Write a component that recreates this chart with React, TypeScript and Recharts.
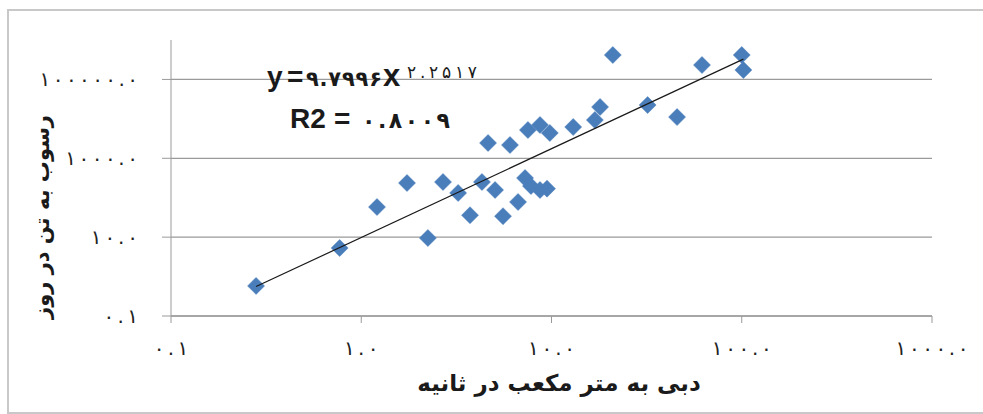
import React from "react";
import {
  ScatterChart,
  Scatter,
  XAxis,
  YAxis,
  ReferenceLine,
} from "recharts";

// دبی (m3/s) و رسوب (تن در روز) – خوانده شده از نمودار
const flowValues = [
  0.28, 0.77, 1.21, 1.74, 2.24, 2.69, 3.23, 3.73, 4.31, 4.64,
  5.05, 5.56, 6.05, 6.67, 7.26, 7.8, 8.7, 9.47, 7.52, 8.7,
  9.8, 13, 16.9, 18, 21, 32, 45.7, 61.8, 100, 102,
];
const sedimentValues = [
  0.58, 5.3, 58, 236, 9.5, 250, 132, 36, 250, 2440,
  157, 34, 2170, 78, 316, 198, 157, 170, 5210, 6980,
  4380, 6210, 9350, 20000, 416000, 22400, 11100, 232000, 416000, 173000,
];

const xTicks = [0.1, 1, 10, 100, 1000];
const xTickLabels = ["۰.۱", "۱.۰", "۱۰.۰", "۱۰۰.۰", "۱۰۰۰.۰"];
const yTicks = [0.1, 10, 1000, 100000];
const yTickLabels = ["۰.۱", "۱۰.۰", "۱۰۰۰.۰", "۱۰۰۰۰۰.۰"];

// ضرایب خط روند توانی
const trendA = 9.7996;
const trendB = 2.2517;

const points = flowValues.map((x, i) => ({ x, y: sedimentValues[i] }));
const xMin = Math.min(...flowValues);
const xMax = Math.max(...flowValues);
const trend = [xMin, xMax].map((x) => ({ x, y: trendA * Math.pow(x, trendB) }));

const persianFont = '"DejaVu Sans", sans-serif';
const latinFont = '"Liberation Sans", Arial, sans-serif';
const gray = "#9a9a9a";

const Diamond = (props: any) => {
  const { cx, cy } = props;
  const r = 8.5;
  return (
    <polygon
      points={`${cx},${cy - r} ${cx + r},${cy} ${cx},${cy + r} ${cx - r},${cy}`}
      fill="#4a7ebb"
      stroke="#4a7ebb"
      strokeWidth={0.5}
    />
  );
};

const labelFor = (labels: string[], ticks: number[], v: number) => {
  const i = ticks.findIndex((t) => Math.abs(t - v) / t < 1e-6);
  return i >= 0 ? labels[i] : "";
};

// persian digits ignore letter-spacing, so spread them with textLength
const spread = (s: string) => s.length * 12.8 - 4;

const XTick = (props: any) => {
  const { x, y, payload } = props;
  const label = labelFor(xTickLabels, xTicks, payload.value);
  return (
    <text
      x={x}
      y={y}
      dy="0.71em"
      textAnchor="middle"
      fontFamily={persianFont}
      fontSize={20}
      fill="#222"
      textLength={spread(label)}
      lengthAdjust="spacing"
    >
      {label}
    </text>
  );
};

const YTick = (props: any) => {
  const { x, y, payload } = props;
  const label = labelFor(yTickLabels, yTicks, payload.value);
  return (
    <text
      x={x}
      y={y}
      dy="0.35em"
      textAnchor="end"
      fontFamily={persianFont}
      fontSize={20}
      fill="#222"
      textLength={spread(label)}
      lengthAdjust="spacing"
    >
      {label}
    </text>
  );
};

export default function App() {
  return (
    <div
      style={{
        position: "absolute",
        left: 0,
        top: 0,
        width: 983,
        height: 414,
        background: "#fff",
        overflow: "hidden",
      }}
    >
      <div
        style={{
          position: "absolute",
          left: 7,
          top: 9,
          width: 1000,
          height: 401,
          borderTop: "2px solid #c8c8c8",
          borderLeft: "2px solid #c8c8c8",
          borderBottom: "2px solid #c8c8c8",
        }}
      />
      <div style={{ position: "absolute", left: 0, top: 0 }}>
        <ScatterChart
          width={983}
          height={414}
          margin={{ top: 40, right: 51, left: 71, bottom: 58 }}
        >
          {yTicks.map((t) => (
            <ReferenceLine key={t} y={t} stroke={gray} strokeWidth={1.3} />
          ))}
          <XAxis
            type="number"
            dataKey="x"
            scale="log"
            domain={[0.1, 1000]}
            ticks={xTicks}
            allowDataOverflow
            height={40}
            tickSize={7}
            tickMargin={18}
            stroke={gray}
            tick={<XTick />}
          />
          <YAxis
            type="number"
            dataKey="y"
            scale="log"
            domain={[0.1, 1000000]}
            ticks={yTicks}
            allowDataOverflow
            width={100}
            tickSize={9}
            tickMargin={24}
            stroke={gray}
            tick={<YTick />}
          />
          <Scatter
            data={points}
            shape={<Diamond />}
            isAnimationActive={false}
          />
          <Scatter
            data={trend}
            line={{ stroke: "#1a1a1a", strokeWidth: 1.2 }}
            shape={() => <g />}
            isAnimationActive={false}
          />
        </ScatterChart>
      </div>
      <svg
        width={983}
        height={414}
        style={{ position: "absolute", left: 0, top: 0, pointerEvents: "none" }}
      >
        <text fontFamily={latinFont} fontWeight="bold" fontSize={28} fill="#1a1a1a" y={86}>
          <tspan x={267}>y</tspan>
          <tspan x={287}>=</tspan>
        </text>
        <text
          x={306}
          y={86}
          fontFamily={persianFont}
          fontWeight="bold"
          fontSize={21}
          fill="#1a1a1a"
          textLength={76}
          lengthAdjust="spacing"
        >
          ۹.۷۹۹۶
        </text>
        <text x={383} y={86} fontFamily={latinFont} fontWeight="bold" fontSize={31} fill="#1a1a1a">
          x
        </text>
        <text
          x={407}
          y={78}
          fontFamily={persianFont}
          fontSize={17}
          fill="#1a1a1a"
          textLength={70}
          lengthAdjust="spacing"
        >
          ۲.۲۵۱۷
        </text>
        <text fontFamily={latinFont} fontWeight="bold" fontSize={28} fill="#1a1a1a" y={128}>
          <tspan x={290}>R2</tspan>
          <tspan x={334}>=</tspan>
        </text>
        <text
          x={362}
          y={128}
          fontFamily={persianFont}
          fontWeight="bold"
          fontSize={22}
          fill="#1a1a1a"
          textLength={88}
          lengthAdjust="spacing"
        >
          ۰.۸۰۰۹
        </text>
      </svg>
      <div
        style={{
          position: "absolute",
          left: 559,
          top: 383,
          transform: "translate(-50%, -50%)",
          fontFamily: persianFont,
          fontWeight: "bold",
          fontSize: 23,
          color: "#1a1a1a",
          whiteSpace: "nowrap",
          direction: "rtl",
        }}
      >
        دبی به متر مکعب در ثانیه
      </div>
      <div
        style={{
          position: "absolute",
          left: 42,
          top: 217,
          transform: "translate(-50%, -50%) rotate(-90deg)",
          fontFamily: persianFont,
          fontWeight: "bold",
          fontSize: 21,
          color: "#1a1a1a",
          whiteSpace: "nowrap",
          direction: "rtl",
        }}
      >
        رسوب به تن در روز
      </div>
    </div>
  );
}
